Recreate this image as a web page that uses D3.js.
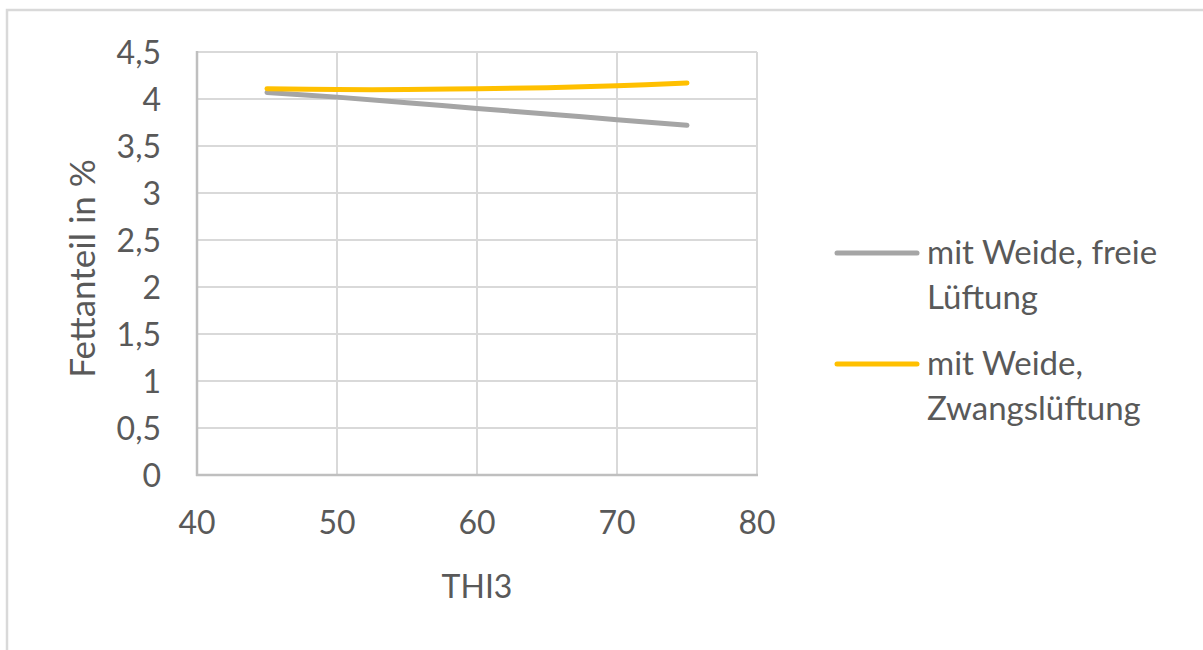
<!DOCTYPE html>
<html><head><meta charset="utf-8">
<script src="https://cdn.jsdelivr.net/npm/d3@7"></script>
<style>body{margin:0;background:#fff;} text{font-family:Lato, "Open Sans", sans-serif; fill:#595959;}</style>
</head><body>
<svg id="c" width="1203" height="650"></svg>
<script>
const thi = [45, 50, 55, 60, 65, 70, 75];
const freieLueftung = [4.07, 4.02, 3.96, 3.90, 3.84, 3.78, 3.72];
const zwangsLueftung = [4.11, 4.10, 4.10, 4.11, 4.12, 4.14, 4.17];
const xTicks = [40, 50, 60, 70, 80];
const yTicks = [0, 0.5, 1, 1.5, 2, 2.5, 3, 3.5, 4, 4.5];
const seriesNames = [["mit Weide, freie", "Lüftung"], ["mit Weide,", "Zwangslüftung"]];
const seriesColors = ["#a5a5a5", "#ffc000"];

const svg = d3.select("#c");
// outer chart border
svg.append("path").attr("d", "M7,650 V10 H1203").attr("fill", "none").attr("stroke", "#d9d9d9").attr("stroke-width", 2.5);

const x = d3.scaleLinear().domain([40, 80]).range([197, 757]);
const y = d3.scaleLinear().domain([0, 4.5]).range([475, 52]);

const g = svg.append("g");
// gridlines
g.selectAll(".hg").data(yTicks.filter(d => d > 0)).enter().append("line")
  .attr("x1", x(40)).attr("x2", x(80)).attr("y1", d => y(d)).attr("y2", d => y(d))
  .attr("stroke", "#d9d9d9").attr("stroke-width", 2);
g.selectAll(".vg").data(xTicks.filter(d => d > 40)).enter().append("line")
  .attr("x1", d => x(d)).attr("x2", d => x(d)).attr("y1", y(0)).attr("y2", y(4.5))
  .attr("stroke", "#d9d9d9").attr("stroke-width", 2);
// axes lines
g.append("line").attr("x1", x(40)).attr("x2", x(40)).attr("y1", y(0)+1).attr("y2", y(4.5)-1).attr("stroke", "#bfbfbf").attr("stroke-width", 2.5);
g.append("line").attr("x1", x(40)-1).attr("x2", x(80)+1).attr("y1", y(0)).attr("y2", y(0)).attr("stroke", "#bfbfbf").attr("stroke-width", 2.5);

// tick labels
g.selectAll(".yl").data(yTicks).enter().append("text")
  .attr("x", 161).attr("y", d => y(d)).attr("dy", "0.36em").attr("text-anchor", "end")
  .attr("font-size", 32).text(d => String(d).replace(".", ","));
g.selectAll(".xl").data(xTicks).enter().append("text")
  .attr("x", d => x(d)).attr("y", 534).attr("text-anchor", "middle")
  .attr("font-size", 32).text(d => d);

// axis titles
svg.append("text").attr("transform", "translate(95," + ((y(0)+y(4.5))/2 + 5) + ") rotate(-90)")
  .attr("text-anchor", "middle").attr("font-size", 35).text("Fettanteil in %");
svg.append("text").attr("x", (x(40)+x(80))/2).attr("y", 598).attr("text-anchor", "middle")
  .attr("font-size", 32).text("THI3");

// lines
const line = d3.line().x((d, i) => x(thi[i])).y(d => y(d)).curve(d3.curveCatmullRom);
[freieLueftung, zwangsLueftung].forEach((s, i) => {
  svg.append("path").datum(s).attr("d", line).attr("fill", "none")
    .attr("stroke", seriesColors[i]).attr("stroke-width", 5).attr("stroke-linecap", "round");
});

// legend
const legY = [253, 364];
seriesNames.forEach((nm, i) => {
  svg.append("line").attr("x1", 837).attr("x2", 917).attr("y1", legY[i]).attr("y2", legY[i])
    .attr("stroke", seriesColors[i]).attr("stroke-width", 5).attr("stroke-linecap", "round");
  nm.forEach((t, j) => {
    svg.append("text").attr("x", 927).attr("y", legY[i] + 11 + j * 45).attr("font-size", 33).text(t);
  });
});
</script>
</body></html>
